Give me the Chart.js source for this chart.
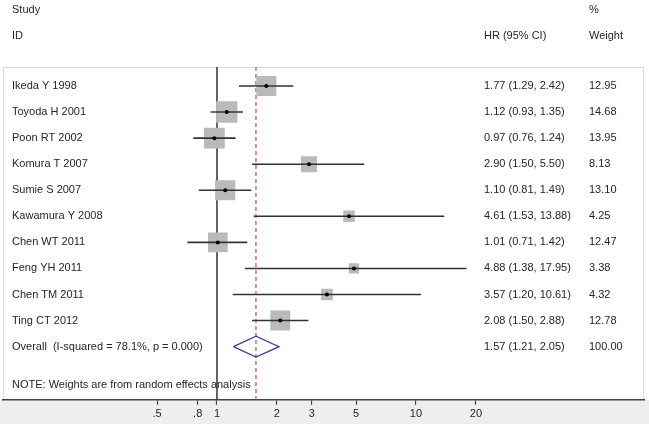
<!DOCTYPE html>
<html>
<head>
<meta charset="utf-8">
<script src="https://cdn.jsdelivr.net/npm/chart.js@4"></script>
<style>
  body { margin: 0; background: #fff; }
  canvas { display: block; }
</style>
</head>
<body>
<canvas id="forest" width="649" height="424"></canvas>
<script>
const studies = ['Ikeda Y 1998', 'Toyoda H 2001', 'Poon RT 2002', 'Komura T 2007', 'Sumie S 2007',
    'Kawamura Y 2008', 'Chen WT 2011', 'Feng YH 2011', 'Chen TM 2011', 'Ting CT 2012'];
const hr = [1.77, 1.12, 0.97, 2.90, 1.10, 4.61, 1.01, 4.88, 3.57, 2.08];
const ciLow = [1.29, 0.93, 0.76, 1.50, 0.81, 1.53, 0.71, 1.38, 1.20, 1.50];
const ciHigh = [2.42, 1.35, 1.24, 5.50, 1.49, 13.88, 1.42, 17.95, 10.61, 2.88];
const weights = [12.95, 14.68, 13.95, 8.13, 13.10, 4.25, 12.47, 3.38, 4.32, 12.78];

const overallLabel = 'Overall  (I-squared = 78.1%, p = 0.000)';
const overallHr = 1.57;
const overallLow = 1.21;
const overallHigh = 2.05;
const overallWeight = 100.00;

const tickValues = [0.5, 0.8, 1, 2, 3, 5, 10, 20];
const tickLabels = ['.5', '.8', '1', '2', '3', '5', '10', '20'];

const note = 'NOTE: Weights are from random effects analysis';

const TEXT = '#262626';
const FONT = '11px "Liberation Sans", Arial, sans-serif';

const overallRow = studies.length;
const yMin = -3.3;
const yMax = 12.04;
const topLineRow = -0.73;

// confidence interval lines, one dataset per study
const ciSets = studies.map((s, i) => ({
    type: 'line',
    data: [{ x: ciLow[i], y: i }, { x: ciHigh[i], y: i }],
    borderColor: '#333',
    borderWidth: 1.6,
    pointRadius: 0,
    order: 1
}));

const ctx = document.getElementById('forest');

const backdrop = {
    id: 'backdrop',
    beforeDraw(chart) {
        const c = chart.ctx;
        const a = chart.chartArea;
        const y = chart.scales.y;
        c.save();
        c.fillStyle = '#fff';
        c.fillRect(0, 0, chart.width, chart.height);
        c.fillStyle = '#eeeeee';
        c.fillRect(0, a.bottom, chart.width, chart.height - a.bottom);
        const top = y.getPixelForValue(topLineRow);
        c.strokeStyle = '#dadada';
        c.lineWidth = 1;
        c.beginPath();
        c.moveTo(a.left, top + 0.5);
        c.lineTo(a.right, top + 0.5);
        c.moveTo(a.left + 0.5, top);
        c.lineTo(a.left + 0.5, a.bottom);
        c.moveTo(a.right - 0.5, top);
        c.lineTo(a.right - 0.5, a.bottom);
        c.stroke();
        c.restore();
    }
};

const labels = {
    id: 'labels',
    afterDatasetsDraw(chart) {
        const c = chart.ctx;
        const y = chart.scales.y;
        const colStudy = 12, colHr = 484, colW = 589;
        c.save();
        c.font = FONT;
        c.fillStyle = TEXT;
        c.textBaseline = 'middle';
        c.textAlign = 'left';

        c.fillText('Study', colStudy, y.getPixelForValue(-2.92));
        c.fillText('ID', colStudy, y.getPixelForValue(-1.92));
        c.fillText('%', colW, y.getPixelForValue(-2.92));
        c.fillText('HR (95% CI)', colHr, y.getPixelForValue(-1.92));
        c.fillText('Weight', colW, y.getPixelForValue(-1.92));

        studies.forEach((s, i) => {
            const py = y.getPixelForValue(i);
            c.fillText(s, colStudy, py);
            c.fillText(hr[i].toFixed(2) + ' (' + ciLow[i].toFixed(2) + ', ' + ciHigh[i].toFixed(2) + ')', colHr, py);
            c.fillText(weights[i].toFixed(2), colW, py);
        });

        const oy = y.getPixelForValue(overallRow);
        c.fillText(overallLabel, colStudy, oy);
        c.fillText(overallHr.toFixed(2) + ' (' + overallLow.toFixed(2) + ', ' + overallHigh.toFixed(2) + ')', colHr, oy);
        c.fillText(overallWeight.toFixed(2), colW, oy);

        c.fillText(note, colStudy, y.getPixelForValue(11.47));
        c.restore();
    }
};

new Chart(ctx, {
    type: 'scatter',
    data: {
        datasets: [
            {
                // centre dots
                data: hr.map((v, i) => ({ x: v, y: i })),
                pointStyle: 'circle',
                pointRadius: 2,
                backgroundColor: '#000',
                borderWidth: 0,
                order: 0
            },
            ...ciSets,
            {
                // weight boxes
                data: hr.map((v, i) => ({ x: v, y: i })),
                pointStyle: 'rect',
                pointRadius: weights.map(w => 3.95 * Math.sqrt(w)),
                backgroundColor: '#bababa',
                borderWidth: 0,
                order: 2
            },
            {
                // pooled diamond
                type: 'line',
                data: [
                    { x: overallLow, y: overallRow },
                    { x: overallHr, y: overallRow - 0.4 },
                    { x: overallHigh, y: overallRow },
                    { x: overallHr, y: overallRow + 0.4 },
                    { x: overallLow, y: overallRow }
                ],
                borderColor: '#3b3b9e',
                borderWidth: 1.3,
                pointRadius: 0,
                fill: false,
                order: 1
            },
            {
                // no-effect line
                type: 'line',
                data: [{ x: 1, y: topLineRow }, { x: 1, y: yMax }],
                borderColor: '#333',
                borderWidth: 1.5,
                pointRadius: 0,
                order: 3
            },
            {
                // overall estimate line
                type: 'line',
                data: [{ x: overallHr, y: topLineRow }, { x: overallHr, y: yMax }],
                borderColor: '#b8505a',
                borderWidth: 1.2,
                borderDash: [4, 3],
                pointRadius: 0,
                order: 3
            }
        ]
    },
    options: {
        responsive: false,
        animation: false,
        events: [],
        layout: {
            autoPadding: false,
            padding: { left: 3, right: 5, top: 0, bottom: 0 }
        },
        plugins: {
            legend: { display: false },
            tooltip: { enabled: false }
        },
        scales: {
            x: {
                type: 'logarithmic',
                min: 0.0841,
                max: 139.9,
                afterBuildTicks: axis => {
                    axis.ticks = tickValues.map(v => ({ value: v }));
                },
                afterFit: axis => {
                    axis.paddingLeft = 0;
                    axis.paddingRight = 0;
                },
                grid: {
                    drawOnChartArea: false,
                    drawTicks: true,
                    tickLength: 5,
                    color: '#444',
                    tickWidth: 1.2
                },
                border: {
                    display: true,
                    color: '#444',
                    width: 1.5
                },
                ticks: {
                    autoSkip: false,
                    maxRotation: 0,
                    padding: 3,
                    color: TEXT,
                    font: { family: '"Liberation Sans", Arial, sans-serif', size: 11 },
                    callback: (value) => {
                        const k = tickValues.indexOf(value);
                        return k >= 0 ? tickLabels[k] : '';
                    }
                }
            },
            y: {
                type: 'linear',
                display: false,
                reverse: true,
                min: yMin,
                max: yMax
            }
        }
    },
    plugins: [backdrop, labels]
});
</script>
</body>
</html>
